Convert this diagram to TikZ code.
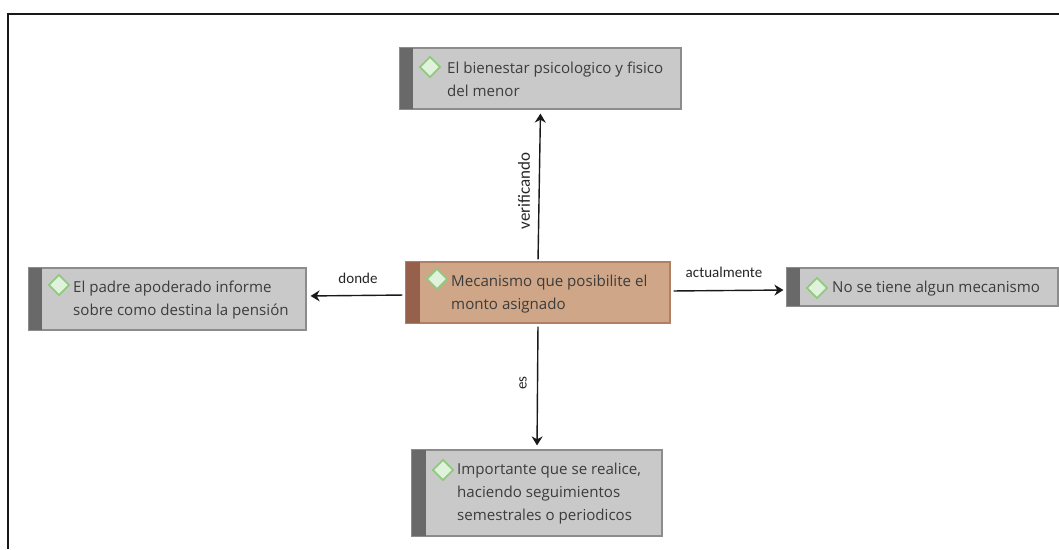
\documentclass[tikz,border=0pt]{standalone}
\usepackage{fontspec}
\setmainfont{Open Sans}
\newfontfamily\labelfont{Carlito}
\usetikzlibrary{arrows.meta,shapes.geometric}
\definecolor{boxgray}{HTML}{C9C9C9}
\definecolor{boxline}{HTML}{8C8C8C}
\definecolor{bargray}{HTML}{696969}
\definecolor{boxbrown}{HTML}{CFA687}
\definecolor{brownline}{HTML}{B07F64}
\definecolor{barbrown}{HTML}{96614C}
\definecolor{tipfill}{HTML}{E0F2DC}
\definecolor{tipline}{HTML}{90C97E}
\definecolor{inktext}{HTML}{3C3C3C}
\tikzset{
	ideabox/.style={draw=boxline,fill=boxgray,line width=1.2pt,inner sep=0pt},
	mainbox/.style={draw=brownline,fill=boxbrown,line width=1.2pt,inner sep=0pt},
	tipmark/.style={diamond,draw=tipline,fill=tipfill,line width=1.8pt,minimum size=21pt,inner sep=0pt},
	ideatext/.style={anchor=west,align=left,inner sep=0pt,text=inktext,font=\fontsize{15.1}{22.6}\selectfont},
	linklabel/.style={inner sep=0pt,text=black!85,font=\labelfont\fontsize{15}{17}\selectfont},
	linkarrow/.style={-{Stealth[length=9pt,width=11pt]},line width=1.4pt,black!90}
}
\begin{document}
\begin{tikzpicture}[x=1pt,y=-1pt]

	\useasboundingbox (0,0) rectangle (1059,549);
	\fill[white] (0,0) rectangle (1059,549);

	% Marco
	\draw[black!90,line width=1.8pt] (8,549) -- (8,14) -- (1059,14);

	% Caja superior
	\node (bienestar) [ideabox,minimum width=281pt,minimum height=61pt] at (540.5,78.5) {};
	\fill[bargray] (400,48) rectangle (413,109);
	\node (bienestartip) [tipmark] at (430,67) {};
	\node (bienestartext) [ideatext] at (447,79.5) {El bienestar psicologico y fisico\\del menor};

	% Caja central
	\node (mecanismo) [mainbox,minimum width=264pt,minimum height=61pt] at (538,292.5) {};
	\fill[barbrown] (406,262) rectangle (420,323);
	\node (mecanismotip) [tipmark] at (437,279) {};
	\node (mecanismotext) [ideatext] at (451,294) {Mecanismo que posibilite el\\monto asignado};

	% Caja izquierda
	\node (padre) [ideabox,minimum width=277pt,minimum height=62pt] at (167.5,299) {};
	\fill[bargray] (29,268) rectangle (42,330);
	\node (padretip) [tipmark] at (59,285) {};
	\node (padretext) [ideatext] at (73,300) {El padre apoderado informe\\sobre como destina la pensión};

	% Caja derecha
	\node (ninguno) [ideabox,minimum width=271pt,minimum height=38pt] at (922.5,287) {};
	\fill[bargray] (787,268) rectangle (800,306);
	\node (ningunotip) [tipmark] at (817,288) {};
	\node (ningunotext) [ideatext] at (832,288.5) {No se tiene algun mecanismo};

	% Caja inferior
	\node (seguimiento) [ideabox,minimum width=250pt,minimum height=86pt] at (537,493) {};
	\fill[bargray] (412,450) rectangle (426,536);
	\node (seguimientotip) [tipmark] at (443,470) {};
	\node (seguimientotext) [ideatext] at (457,493.5) {Importante que se realice,\\haciendo seguimientos\\semestrales o periodicos};

	% Flechas
	\draw[linkarrow,shorten <=2pt,shorten >=4pt] (mecanismo.north) -- (bienestar.south);
	\draw[linkarrow,shorten <=3pt,shorten >=4pt] ([yshift=-2.5pt]mecanismo.west) -- ([yshift=3pt]padre.east);
	\draw[linkarrow,shorten <=3pt,shorten >=3pt] ([yshift=1.5pt]mecanismo.east) -- ([yshift=-3pt]ninguno.west);
	\draw[linkarrow,shorten <=3pt,shorten >=4pt] (mecanismo.south) -- (seguimiento.north);

	% Etiquetas
	\node (verificando) [linklabel,rotate=90,font=\labelfont\fontsize{17}{19}\selectfont] at (524,191) {verificando};
	\node (donde) [linklabel] at (358,278) {donde};
	\node (actualmente) [linklabel] at (724,272) {actualmente};
	\node (es) [linklabel,rotate=90] at (523,383) {es};

\end{tikzpicture}
\end{document}
